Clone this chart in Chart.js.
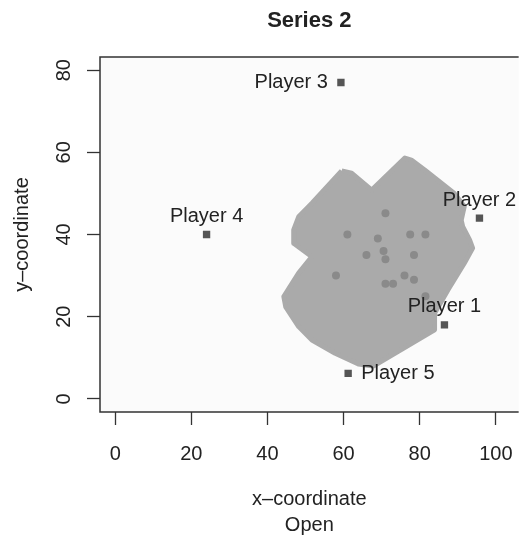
<!DOCTYPE html>
<html>
<head>
<meta charset="utf-8">
<script src="https://cdn.jsdelivr.net/npm/chart.js@4/dist/chart.umd.min.js"></script>
<style>
  body { margin: 0; background: #fff; }
  #wrap { width: 530px; height: 540px; }
</style>
</head>
<body>
<div id="wrap"><canvas id="myChart" width="530" height="540"></canvas></div>
<script>
// players (squares)
const playerNames = ["Player 1", "Player 2", "Player 3", "Player 4", "Player 5"];
const playerX = [86.5, 95.7, 59.3, 24, 61.2];
const playerY = [18, 44, 77, 40, 6.2];
const labelSide = ["top", "top", "left", "top", "right"];

// small dots inside the shaded area
const dotX = [71, 61, 69, 77.5, 81.5, 70.5, 66, 71, 78.5, 58, 76, 78.5, 71, 73, 81.5];
const dotY = [45.2, 40, 39, 40, 40, 36, 35, 34, 35, 30, 30, 29, 28, 28, 25];

// outline of the shaded area
const areaX = [59.5, 51.7, 48.2, 46.9, 46.9, 51.7, 48.2, 44.3, 44.8, 48.2, 51.7, 57.8, 63.9, 67.8, 83.9, 83.9, 87.4, 91.7, 93.9, 93.1, 91.3, 90.9, 91.7, 89.1, 81.3, 77.8, 76.1, 67.4, 62.1, 59.5];
const areaY = [55.5, 47.6, 44.3, 41.1, 37.9, 34.6, 30.6, 24.9, 22.4, 17.6, 14.3, 11.1, 8.5, 8.0, 16.8, 20.8, 26.5, 33.0, 36.7, 38.7, 41.9, 43.5, 46.8, 50.0, 55.7, 58.1, 58.6, 50.8, 54.9, 55.5];

const xTicks = [0, 20, 40, 60, 80, 100];
const yTicks = [0, 20, 40, 60, 80];

const toPoints = (xs, ys) => xs.map((x, i) => ({x: x, y: ys[i]}));

const FONT = "'Liberation Sans', Arial, Helvetica, sans-serif";

const boxPlugin = {
    id: 'r_box',
    beforeDatasetsDraw: (chart) => {
        const ctx = chart.ctx;
        const a = chart.chartArea;
        ctx.save();
        ctx.fillStyle = '#fbfbfb';
        ctx.fillRect(a.left, a.top, a.right - a.left, a.bottom - a.top);
        ctx.restore();
    },
    afterDatasetsDraw: (chart) => {
        const ctx = chart.ctx;
        const a = chart.chartArea;
        ctx.save();
        ctx.strokeStyle = '#333';
        ctx.lineWidth = 1.5;
        ctx.beginPath();
        ctx.moveTo(a.right, a.top);
        ctx.lineTo(a.left, a.top);
        ctx.lineTo(a.left, a.bottom);
        ctx.lineTo(a.right, a.bottom);
        ctx.stroke();

        // player labels
        const xs = chart.scales.x;
        const ys = chart.scales.y;
        ctx.fillStyle = '#222';
        ctx.font = '20px ' + FONT;
        for (let i = 0; i < playerNames.length; i++) {
            const px = xs.getPixelForValue(playerX[i]);
            const py = ys.getPixelForValue(playerY[i]);
            ctx.textBaseline = 'middle';
            if (labelSide[i] === 'top') {
                ctx.textAlign = 'center';
                ctx.fillText(playerNames[i], px, py - 18);
            } else if (labelSide[i] === 'left') {
                ctx.textAlign = 'right';
                ctx.fillText(playerNames[i], px - 13, py);
            } else {
                ctx.textAlign = 'left';
                ctx.fillText(playerNames[i], px + 13, py);
            }
        }

        // main title
        ctx.font = 'bold 22px ' + FONT;
        ctx.textAlign = 'center';
        ctx.textBaseline = 'middle';
        ctx.fillText('Series 2', (a.left + a.right) / 2, 21);
        ctx.restore();
    }
};

const ctx = document.getElementById("myChart").getContext("2d");

const myChart = new Chart(ctx, {
    type: 'scatter',
    plugins: [boxPlugin],
    data: {
        datasets: [{
            label: 'players',
            data: toPoints(playerX, playerY),
            pointStyle: 'rect',
            pointRadius: 5.2,
            backgroundColor: '#555555',
            borderWidth: 0,
            order: 1
        }, {
            label: 'dots',
            data: toPoints(dotX, dotY),
            pointRadius: 4,
            backgroundColor: '#8a8a8a',
            borderWidth: 0,
            order: 2
        }, {
            label: 'area',
            data: toPoints(areaX, areaY),
            showLine: true,
            fill: 'shape',
            tension: 0,
            pointRadius: 0,
            backgroundColor: '#aaaaaa',
            borderColor: '#aaaaaa',
            borderWidth: 5,
            borderJoinStyle: 'round',
            order: 3
        }]
    },
    options: {
        responsive: false,
        animation: false,
        layout: {padding: {top: 57, right: 9, left: 0, bottom: 0}},
        plugins: {
            legend: {display: false},
            tooltip: {enabled: false},
            title: {display: false}
        },
        scales: {
            x: {
                type: 'linear',
                min: -4,
                max: 106,
                afterBuildTicks: (s) => { s.ticks = xTicks.map(v => ({value: v})); },
                afterFit: (s) => { s.height = 128; },
                grid: {drawOnChartArea: false, tickLength: 13, color: '#333', tickWidth: 1.3},
                border: {display: false},
                ticks: {color: '#222', font: {size: 20, family: FONT}, padding: 17, maxRotation: 0},
                title: {display: true, text: ['x\u2013coordinate', 'Open'], color: '#222',
                        font: {size: 20, family: FONT, lineHeight: 1.3}, padding: {top: 0, bottom: 2}}
            },
            y: {
                type: 'linear',
                min: -3.2,
                max: 83.2,
                afterBuildTicks: (s) => { s.ticks = yTicks.map(v => ({value: v})); },
                afterFit: (s) => { s.width = 100; },
                grid: {drawOnChartArea: false, tickLength: 13, color: '#333', tickWidth: 1.3},
                border: {display: false},
                ticks: {color: '#222', font: {size: 20, family: FONT}, padding: 11,
                        minRotation: 90, maxRotation: 90, crossAlign: 'center'},
                title: {display: true, text: 'y\u2013coordinate', color: '#222',
                        font: {size: 20, family: FONT, lineHeight: 1.3}, padding: {top: 9, bottom: 0}}
            }
        }
    }
});
</script>
</body>
</html>
